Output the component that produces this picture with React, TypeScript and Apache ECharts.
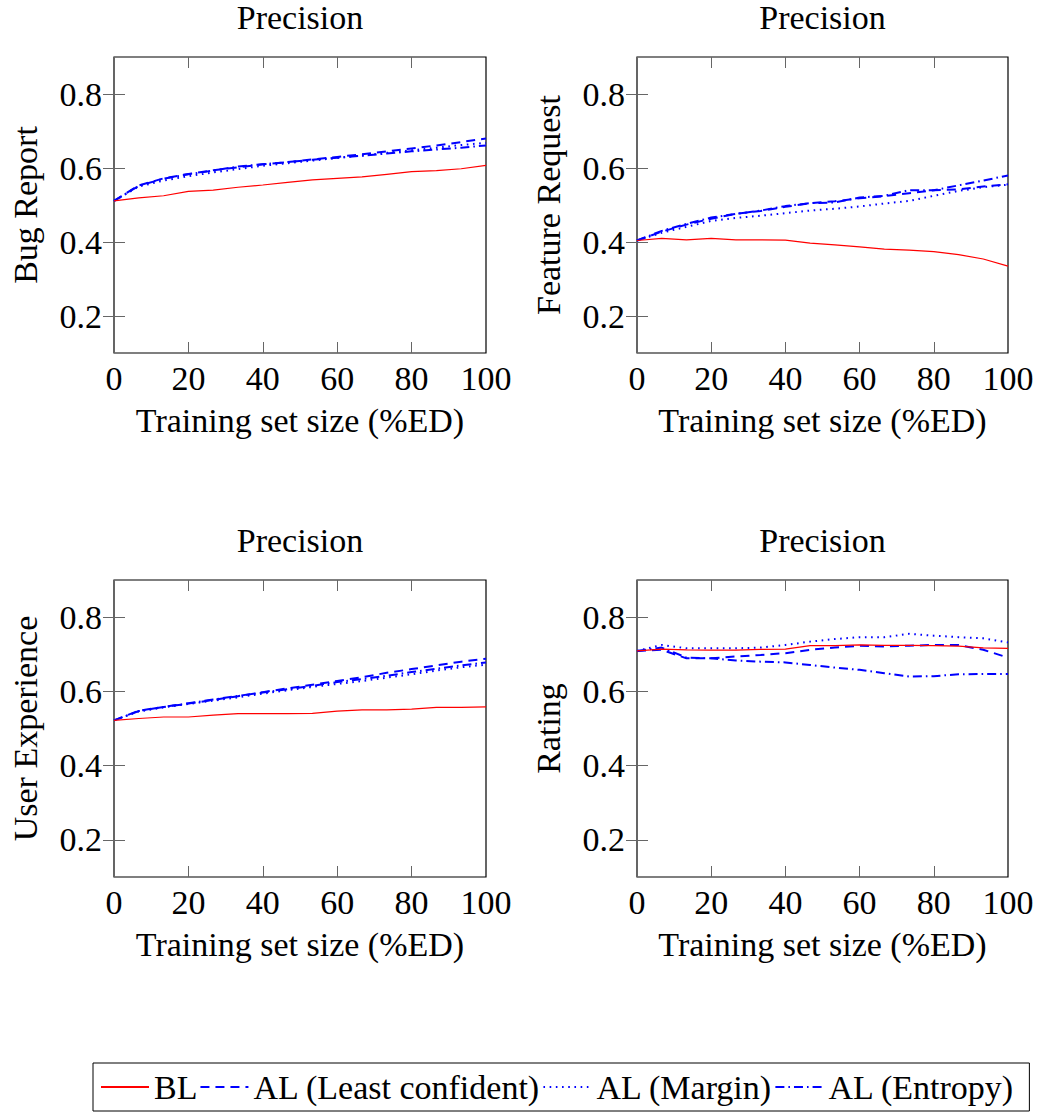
import React, { useEffect, useRef } from "react";
import * as echarts from "echarts";

// ---- Data ----
const X_VALUES = [0, 6.67, 13.33, 20, 26.67, 33.33, 40, 46.67, 53.33, 60, 66.67, 73.33, 80, 86.67, 93.33, 100];
const X_TICKS = [0, 20, 40, 60, 80, 100];
const Y_TICKS = [0.2, 0.4, 0.6, 0.8];
const SERIES_NAMES = ["BL", "AL (Least confident)", "AL (Margin)", "AL (Entropy)"];
const PANEL_TITLES = ["Precision", "Precision", "Precision", "Precision"];
const Y_LABELS = ["Bug Report", "Feature Request", "User Experience", "Rating"];

const BUG_BL = [0.511, 0.519, 0.525, 0.537, 0.540, 0.548, 0.554, 0.561, 0.568, 0.572, 0.576, 0.583, 0.590, 0.593, 0.598, 0.607];
const BUG_LC = [0.511, 0.553, 0.572, 0.584, 0.594, 0.602, 0.610, 0.616, 0.623, 0.630, 0.637, 0.645, 0.653, 0.661, 0.670, 0.680];
const BUG_MARGIN = [0.511, 0.550, 0.566, 0.578, 0.588, 0.597, 0.606, 0.613, 0.620, 0.627, 0.634, 0.641, 0.648, 0.655, 0.662, 0.668];
const BUG_ENTROPY = [0.511, 0.552, 0.571, 0.583, 0.593, 0.604, 0.610, 0.616, 0.622, 0.628, 0.633, 0.639, 0.645, 0.650, 0.655, 0.661];

const FEAT_BL = [0.404, 0.410, 0.406, 0.410, 0.406, 0.406, 0.405, 0.397, 0.392, 0.387, 0.381, 0.378, 0.374, 0.366, 0.354, 0.335];
const FEAT_LC = [0.404, 0.428, 0.447, 0.463, 0.476, 0.484, 0.495, 0.505, 0.510, 0.518, 0.524, 0.532, 0.540, 0.542, 0.550, 0.556];
const FEAT_MARGIN = [0.404, 0.425, 0.441, 0.457, 0.465, 0.471, 0.478, 0.485, 0.490, 0.496, 0.504, 0.511, 0.525, 0.538, 0.548, 0.555];
const FEAT_ENTROPY = [0.404, 0.430, 0.449, 0.466, 0.476, 0.485, 0.497, 0.505, 0.507, 0.520, 0.525, 0.540, 0.540, 0.553, 0.566, 0.580];

const UX_BL = [0.522, 0.527, 0.531, 0.531, 0.536, 0.540, 0.540, 0.540, 0.541, 0.547, 0.550, 0.550, 0.552, 0.557, 0.557, 0.558];
const UX_LC = [0.522, 0.548, 0.558, 0.567, 0.577, 0.587, 0.598, 0.608, 0.618, 0.628, 0.638, 0.650, 0.660, 0.670, 0.680, 0.688];
const UX_MARGIN = [0.522, 0.546, 0.557, 0.566, 0.575, 0.584, 0.594, 0.603, 0.612, 0.620, 0.628, 0.637, 0.646, 0.656, 0.665, 0.672];
const UX_ENTROPY = [0.522, 0.547, 0.558, 0.568, 0.578, 0.588, 0.597, 0.606, 0.615, 0.625, 0.633, 0.642, 0.652, 0.661, 0.670, 0.678];

const RATE_BL = [0.709, 0.714, 0.712, 0.711, 0.711, 0.713, 0.714, 0.723, 0.723, 0.725, 0.724, 0.724, 0.723, 0.722, 0.717, 0.716];
const RATE_LC = [0.709, 0.712, 0.689, 0.689, 0.694, 0.698, 0.703, 0.712, 0.718, 0.723, 0.721, 0.723, 0.725, 0.725, 0.712, 0.691];
const RATE_MARGIN = [0.709, 0.725, 0.716, 0.716, 0.716, 0.718, 0.725, 0.734, 0.741, 0.746, 0.746, 0.755, 0.750, 0.746, 0.743, 0.732];
const RATE_ENTROPY = [0.709, 0.718, 0.691, 0.689, 0.683, 0.680, 0.678, 0.671, 0.664, 0.658, 0.649, 0.640, 0.641, 0.646, 0.647, 0.647];

const PANEL_DATA = [
  [BUG_BL, BUG_LC, BUG_MARGIN, BUG_ENTROPY],
  [FEAT_BL, FEAT_LC, FEAT_MARGIN, FEAT_ENTROPY],
  [UX_BL, UX_LC, UX_MARGIN, UX_ENTROPY],
  [RATE_BL, RATE_LC, RATE_MARGIN, RATE_ENTROPY],
];

// ---- Styles ----
const FONT = "Liberation Serif";
const FS = 34;
const GRIDS = [
  { left: 114, top: 57, width: 372, height: 296 },
  { left: 637, top: 57, width: 371, height: 296 },
  { left: 114, top: 580, width: 372, height: 297 },
  { left: 637, top: 580, width: 371, height: 297 },
];
const LINE_STYLES = [
  { color: "#ff0000", width: 1.2, type: "solid" },
  { color: "#0000ff", width: 2, type: [9, 6] },
  { color: "#0000ff", width: 2, type: [1.6, 4.6] },
  { color: "#0000ff", width: 2, type: [9, 4, 1.6, 4] },
];

function buildOption() {
  const grid: any[] = [];
  const xAxis: any[] = [];
  const yAxis: any[] = [];
  const series: any[] = [];
  const tickStyle = { show: true, inside: true, length: 11, lineStyle: { color: "#666", width: 1 } };

  GRIDS.forEach((g, i) => {
    grid.push({
      ...g, show: true, borderColor: "#000", borderWidth: 1.2, backgroundColor: "transparent",
      containLabel: false, outerBoundsMode: "none",
    });
    xAxis.push({
      type: "value", gridIndex: i, min: 0, max: 100, interval: 20, position: "bottom",
      axisLine: { show: false }, axisTick: { ...tickStyle, customValues: X_TICKS },
      splitLine: { show: false },
      axisLabel: { show: true, margin: 8, color: "#000", fontFamily: FONT, fontSize: FS, customValues: X_TICKS },
      name: "Training set size (%ED)", nameLocation: "middle", nameGap: 50,
      nameTextStyle: { color: "#000", fontFamily: FONT, fontSize: FS },
    });
    xAxis.push({
      type: "value", gridIndex: i, min: 0, max: 100, interval: 20, position: "top",
      axisLine: { show: false }, axisTick: { ...tickStyle, customValues: X_TICKS },
      splitLine: { show: false }, axisLabel: { show: false },
      name: PANEL_TITLES[i], nameLocation: "middle", nameGap: 23,
      nameTextStyle: { color: "#000", fontFamily: FONT, fontSize: FS },
    });
    yAxis.push({
      type: "value", gridIndex: i, min: 0.1, max: 0.9, position: "left",
      axisLine: { show: false }, axisTick: { ...tickStyle, customValues: Y_TICKS },
      splitLine: { show: false },
      axisLabel: {
        show: true, margin: 12, color: "#000", fontFamily: FONT, fontSize: FS, customValues: Y_TICKS,
        formatter: (v: number) => v.toFixed(1),
      },
      name: Y_LABELS[i], nameLocation: "middle", nameGap: 72, nameRotate: 90,
      nameTextStyle: { color: "#000", fontFamily: FONT, fontSize: FS },
    });
    yAxis.push({
      type: "value", gridIndex: i, min: 0.1, max: 0.9, position: "right",
      axisLine: { show: false }, axisTick: { ...tickStyle, customValues: Y_TICKS },
      splitLine: { show: false }, axisLabel: { show: false },
    });
    PANEL_DATA[i].forEach((vals, s) => {
      series.push({
        name: SERIES_NAMES[s], type: "line", xAxisIndex: 2 * i, yAxisIndex: 2 * i,
        data: X_VALUES.map((x, k) => [x, vals[k]]),
        symbol: "none", showSymbol: false, smooth: false,
        lineStyle: LINE_STYLES[s], itemStyle: { color: LINE_STYLES[s].color },
        z: s === 0 ? 3 : 2,
      });
    });
  });

  return {
    animation: false,
    backgroundColor: "#fff",
    grid, xAxis, yAxis, series,
    legend: {
      data: SERIES_NAMES,
      left: 93, top: 1063,
      orient: "horizontal",
      itemWidth: 48, itemHeight: 14, itemGap: 2,
      borderColor: "#000", borderWidth: 1, borderRadius: 0,
      padding: [7, 15, 7, 7],
      selectedMode: false,
      itemStyle: { opacity: 0 },
      textStyle: { color: "#000", fontFamily: FONT, fontSize: FS },
    },
  };
}

export default function App() {
  const ref = useRef<HTMLDivElement>(null);
  useEffect(() => {
    document.body.style.margin = "0";
    if (!ref.current) return;
    const chart = echarts.init(ref.current, undefined, { renderer: "svg" });
    chart.setOption(buildOption() as any);
    return () => chart.dispose();
  }, []);
  return <div ref={ref} style={{ width: 1037, height: 1112 }} />;
}
